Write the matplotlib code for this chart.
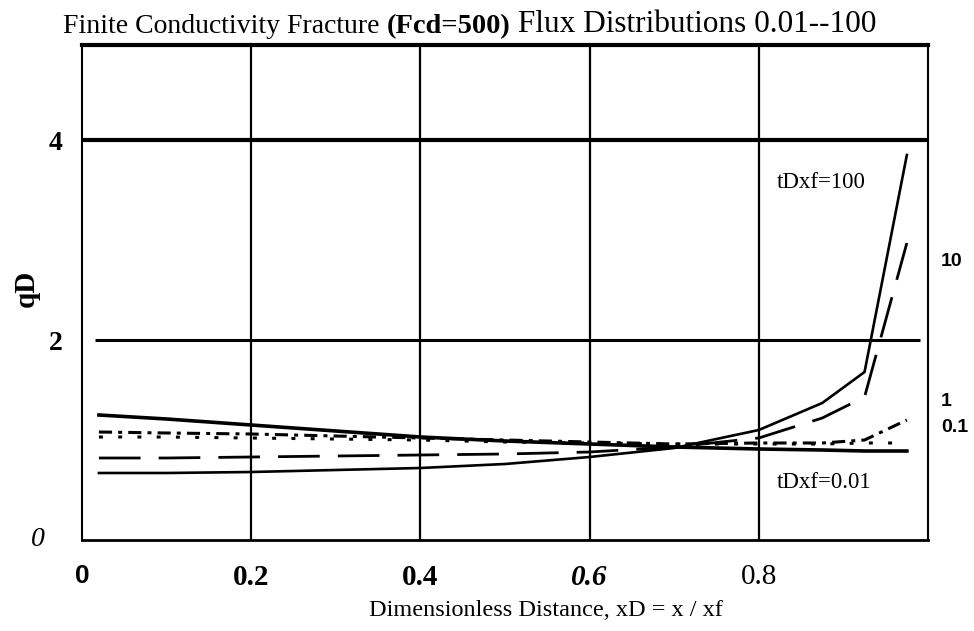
import matplotlib
matplotlib.use("Agg")
import matplotlib.pyplot as plt
from matplotlib.transforms import blended_transform_factory

# ---------------- data ----------------
x_d = [0.02, 0.10, 0.20, 0.30, 0.40, 0.50, 0.60, 0.70, 0.80, 0.875, 0.925, 0.975]
q_t001 = [1.25, 1.21, 1.15, 1.09, 1.03, 0.99, 0.96, 0.93, 0.91, 0.90, 0.89, 0.89]
q_t01 = [1.03, 1.03, 1.02, 1.01, 1.00, 0.98, 0.97, 0.96, 0.96, 0.96, 0.97, 0.97]
q_t1 = [1.08, 1.07, 1.06, 1.04, 1.02, 1.00, 0.98, 0.96, 0.97, 0.97, 1.00, 1.20]
q_t10 = [0.82, 0.82, 0.83, 0.84, 0.85, 0.86, 0.88, 0.93, 1.02, 1.22, 1.43, 2.97]
q_t100 = [0.67, 0.67, 0.68, 0.70, 0.72, 0.76, 0.83, 0.92, 1.10, 1.37, 1.68, 3.85]

x_ticks = [0, 0.2, 0.4, 0.6, 0.8]
x_tick_labels = ["0", "0.2", "0.4", "0.6", "0.8"]
y_ticks = [2, 4]
y_tick_labels = ["2", "4"]
y_zero_label = "0"

title_parts = ["Finite Conductivity Fracture ", "(Fcd=500)", " Flux Distributions 0.01--100"]
x_label = "Dimensionless Distance, xD = x / xf"
y_label = "qD"
label_t100 = "tDxf=100"
label_t001 = "tDxf=0.01"
side_labels = ["10", "1", "0.1"]

SERIF = "Liberation Serif"
SANS = "Liberation Sans"

# ---------------- figure ----------------
W, H = 974, 631
fig = plt.figure(figsize=(W / 100, H / 100), dpi=100)
L, R, T, B = 82, 928, 45, 540
ax = fig.add_axes([L / W, 1 - B / H, (R - L) / W, (B - T) / H])
ax.set_xlim(0, 1.0)
ax.set_ylim(0, (B - T) / 100)

# grid lines
for xv in x_ticks[1:]:
    ax.axvline(xv, color="black", lw=1.6, zorder=1)
ax.axhline(4, color="black", lw=3.0, zorder=1)
ax.hlines(2, 0.015, 0.99, color="black", lw=2.2, zorder=1)

# curves
ax.plot(x_d, q_t001, color="black", lw=2.6, zorder=3, solid_joinstyle="round")
ax.plot(x_d, q_t01, color="black", lw=2.2, dashes=(1.3, 5.0), zorder=3)
ax.plot(x_d, q_t1, color="black", lw=2.2, dashes=(4.3, 2.0, 1.3, 2.0), zorder=3)
ax.plot(x_d, q_t10, color="black", lw=2.0, dashes=(15, 6.5), zorder=3)
ax.plot(x_d, q_t100, color="black", lw=1.9, zorder=3)

# spines
for side, lw in (("left", 1.5), ("right", 1.5), ("bottom", 2.0), ("top", 3.0)):
    ax.spines[side].set_linewidth(lw)
    ax.spines[side].set_color("black")

# ticks
ax.tick_params(length=0)
ax.set_xticks(x_ticks, x_tick_labels)
ax.tick_params(axis="x", pad=17.5)
xt_styles = [
    dict(family=SANS, weight="bold", size=19),
    dict(family=SERIF, weight="bold", size=21),
    dict(family=SERIF, weight="bold", size=21),
    dict(family=SERIF, weight="bold", style="italic", size=21),
    dict(family=SERIF, weight="normal", size=21),
]
for lab, st in zip(ax.get_xticklabels(), xt_styles):
    lab.set_fontfamily(st["family"])
    lab.set_fontweight(st["weight"])
    lab.set_fontsize(st["size"])
    lab.set_fontstyle(st.get("style", "normal"))

ax.set_yticks(y_ticks, y_tick_labels)
ax.tick_params(axis="y", pad=14)
for lab in ax.get_yticklabels():
    lab.set_fontfamily(SERIF)
    lab.set_fontweight("bold")
    lab.set_fontsize(20)

ax.annotate(y_zero_label, xy=(0, 0), xycoords=("axes fraction", "data"),
            xytext=(-27, 0), textcoords="offset points", ha="right", va="center",
            fontfamily=SERIF, fontstyle="italic", fontsize=20)

# axis labels
fig.text(546 / W, 1 - 610 / H, x_label, ha="center", va="center",
         fontfamily=SERIF, fontsize=17.5)
fig.text(26 / W, 1 - 288 / H, y_label, ha="center", va="center", rotation=90,
         fontfamily=SERIF, fontweight="bold", fontsize=21)

# title built from pieces
t1 = fig.text(63 / W, 1 - 33 / H, title_parts[0], ha="left", va="baseline",
              fontfamily=SERIF, fontsize=20)
t2 = ax.annotate(title_parts[1], xy=(1, 0), xycoords=t1, ha="left", va="bottom",
                 fontfamily=SERIF, fontweight="bold", fontsize=20.5, annotation_clip=False)
t3 = ax.annotate(title_parts[2], xy=(1, 0), xycoords=t2, ha="left", va="bottom",
                 fontfamily=SERIF, fontsize=22.5, annotation_clip=False)

# curve labels
ax.text((777 - L) / (R - L), (B - 183) / 100, label_t100, ha="left", va="center",
        fontfamily=SERIF, fontsize=16.5)
ax.text((777 - L) / (R - L), (B - 483) / 100, label_t001, ha="left", va="center",
        fontfamily=SERIF, fontsize=16.5)
trans = blended_transform_factory(ax.transAxes, ax.transData)
for lab, ypx in zip(side_labels, (262, 402, 428)):
    ax.text((941 - L) / (R - L), (B - ypx) / 100, lab, transform=trans,
            ha="left", va="center", fontfamily=SANS, fontweight="bold", fontsize=14,
            clip_on=False)

fig.savefig("out.png", dpi=100)
